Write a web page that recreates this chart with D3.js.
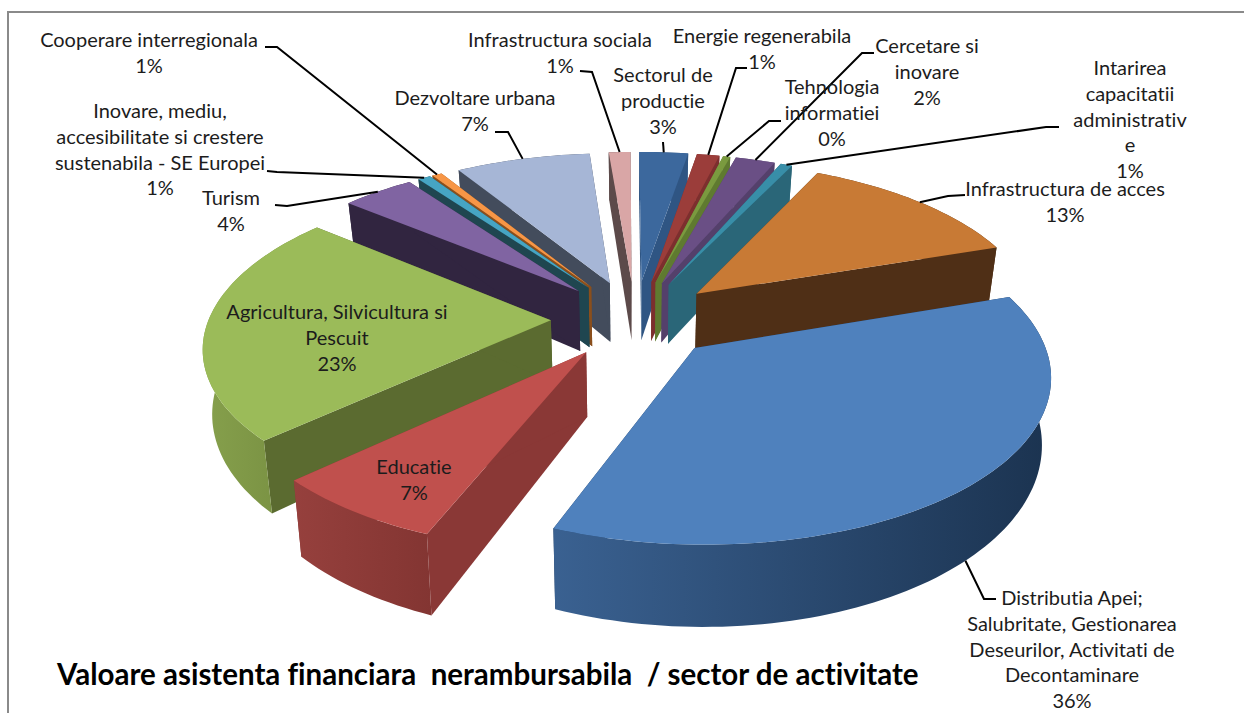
<!DOCTYPE html>
<html>
<head>
<meta charset="utf-8">
<script src="https://cdn.jsdelivr.net/npm/d3@7"></script>
<style>
    html, body { margin: 0; padding: 0; background: #fff; overflow: hidden; }
    text { font-family: Lato, "Open Sans", sans-serif; font-variant-ligatures: none; }
</style>
</head>
<body>
<script>
const categories = [
    'Sectorul de\nproductie', 'Energie regenerabila', 'Tehnologia\ninformatiei', 'Cercetare si\ninovare',
    'Intarirea\ncapacitatii\nadministrativ\ne', 'Infrastructura de acces',
    'Distributia Apei;\nSalubritate, Gestionarea\nDeseurilor, Activitati de\nDecontaminare',
    'Educatie', 'Agricultura, Silvicultura si\nPescuit', 'Turism',
    'Inovare, mediu,\naccesibilitate si crestere\nsustenabila - SE Europei', 'Cooperare interregionala',
    'Dezvoltare urbana', 'Infrastructura sociala'
];
const values = [2.7, 1.25, 0.4, 2.2, 0.65, 12.7, 36.2, 7.0, 23.0, 4.0, 0.7, 0.55, 7.45, 1.2];

const topColors = ['#3c689d', '#9b3d3a', '#7a9a3f', '#6a4f85', '#388ea8', '#c87a35', '#4f81bd',
    '#c0504d', '#9bbb59', '#8064a2', '#46a5c3', '#f79646', '#a6b6d6', '#d9a6a6'];
const wallColors = ['#2f5583', '#7c2f2e', '#5f7a30', '#54406b', '#2a6678', '#4f2f16', '#1f3a5c',
    '#8a3836', '#5b6b30', '#312540', '#1f4650', '#8a4f1c', '#434c5c', '#5c4a4a'];
const rimStart = ['#2f5583', '#7c2f2e', '#5f7a30', '#54406b', '#2a6678', '#4f2f16', '#3a6191',
    '#96403d', '#86a04c', '#312540', '#1f4650', '#8a4f1c', '#434c5c', '#5c4a4a'];
const rimEnd = ['#2f5583', '#7c2f2e', '#5f7a30', '#54406b', '#2a6678', '#4f2f16', '#1b3350',
    '#833532', '#738a3e', '#312540', '#1f4650', '#8a4f1c', '#434c5c', '#5c4a4a'];

// label centre x, first line centre y, line step
const labelX = [663, 762, 832, 927, 1130, 1065, 1072, 414, 337, 231, 160, 149, 475, 560];
const labelY = [75, 36, 87, 46, 68, 189, 598, 467, 312, 198, 111, 40, 98, 40];
// leader: start of the line and elbow, the far end comes from the slice. null = no leader
const leaderStart = [[663, 142], [747, 68], [781, 121], [874, 53], [1059, 127], [965, 195], [996, 599],
    null, null, [275, 205], [267, 171], [265, 47], [495, 132], [580, 71]];
const leaderElbow = [null, [736, 68], [769, 121], [862, 53], [1046, 127], [948, 196], [984, 599],
    null, null, [287, 206], [277, 172], [277, 47], [508, 132], [592, 72]];

const width = 1244;
const height = 713;
const cx = 635;
const cy = 319;
const explode = 0.246;
const persp = 0.146;
const depth = 62;
const lineStep = 25.8;
const turn = -0.005;

const xScale = d3.scaleLinear().domain([-1, 1]).range([-342, 342]);
const yScale = d3.scaleLinear().domain([-1, 1]).range([158.5, -158.5]);

const project = (X, Y, bottom) => {
    const w = 1 + persp * Y;
    let sx = xScale(X) / w;
    let sy = yScale(Y) / w;
    if (bottom) {
        sx *= 0.978;
        sy += depth / Math.pow(w, 1.5);
    }
    return [cx + sx, cy + sy];
};

const svg = d3.select('body').append('svg')
    .attr('width', width)
    .attr('height', height)
    .style('display', 'block');

svg.append('rect')
    .attr('x', 8)
    .attr('y', 12)
    .attr('width', 1400)
    .attr('height', 900)
    .attr('fill', '#fff')
    .attr('stroke', '#8a8a8a')
    .attr('stroke-width', 2);

const defs = svg.append('defs');
const total = d3.sum(values);
const line = d3.line();

const pie = d3.pie().sort(null).value((d) => d)
    .startAngle(turn)
    .endAngle(2 * Math.PI + turn);

const slices = pie(values).map((s, i) => {
    const mid = (s.startAngle + s.endAngle) / 2;
    return {
        i,
        start: s.startAngle,
        end: s.endAngle,
        mid,
        ox: explode * Math.sin(mid),
        oy: explode * Math.cos(mid)
    };
});

const rimPoint = (s, a, bottom) => project(s.ox + Math.sin(a), s.oy + Math.cos(a), bottom);

const arcPoints = (s, bottom) => {
    const n = Math.max(2, Math.ceil((s.end - s.start) * 40));
    return d3.range(n + 1).map((k) => rimPoint(s, s.start + (s.end - s.start) * k / n, bottom));
};

// back slices first, front slices paint over them
const order = slices.slice().sort((a, b) => Math.cos(b.mid) - Math.cos(a.mid));

const pieG = svg.append('g');
order.forEach((s) => {
    const g = pieG.append('g');
    const apexTop = project(s.ox, s.oy, false);
    const apexBottom = project(s.ox, s.oy, true);
    const topArc = arcPoints(s, false);
    const bottomArc = arcPoints(s, true);

    [[0, 0], [topArc.length - 1, bottomArc.length - 1]].forEach((e) => {
        g.append('path')
            .attr('d', line([apexTop, topArc[e[0]], bottomArc[e[1]], apexBottom]) + 'Z')
            .attr('fill', wallColors[s.i]);
    });

    const gradId = 'rim' + s.i;
    const grad = defs.append('linearGradient').attr('id', gradId);
    grad.append('stop').attr('offset', '0%').attr('stop-color', rimStart[s.i]);
    grad.append('stop').attr('offset', '100%').attr('stop-color', rimEnd[s.i]);

    g.append('path')
        .attr('d', line(topArc.concat(bottomArc.slice().reverse())) + 'Z')
        .attr('fill', 'url(#' + gradId + ')');

    g.append('path')
        .attr('d', line([apexTop].concat(topArc)) + 'Z')
        .attr('fill', topColors[s.i]);
});

// leaders end on the rim at the middle of the slice; the big front slice on its lower edge
slices.forEach((s) => {
    if (!leaderStart[s.i]) return;
    const pts = [leaderStart[s.i]];
    if (leaderElbow[s.i]) pts.push(leaderElbow[s.i]);
    pts.push(rimPoint(s, s.mid, Math.cos(s.mid) < -0.5));
    svg.append('path')
        .attr('d', line(pts))
        .attr('fill', 'none')
        .attr('stroke', '#000')
        .attr('stroke-width', 2);
});

slices.forEach((s) => {
    const lines = categories[s.i].split('\n').concat(Math.round(values[s.i] / total * 100) + '%');
    const t = svg.append('text')
        .attr('text-anchor', 'middle')
        .attr('font-size', 20)
        .attr('fill', '#1c1c1c');
    lines.forEach((l, k) => {
        t.append('tspan')
            .attr('x', labelX[s.i])
            .attr('y', labelY[s.i] + k * lineStep + 7)
            .text(l);
    });
});

svg.append('text')
    .attr('x', 57)
    .attr('y', 685)
    .attr('font-size', 29.5)
    .attr('font-weight', 700)
    .attr('fill', '#000')
    .style('white-space', 'pre')
    .text('Valoare asistenta financiara  nerambursabila  / sector de activitate');
</script>
</body>
</html>
